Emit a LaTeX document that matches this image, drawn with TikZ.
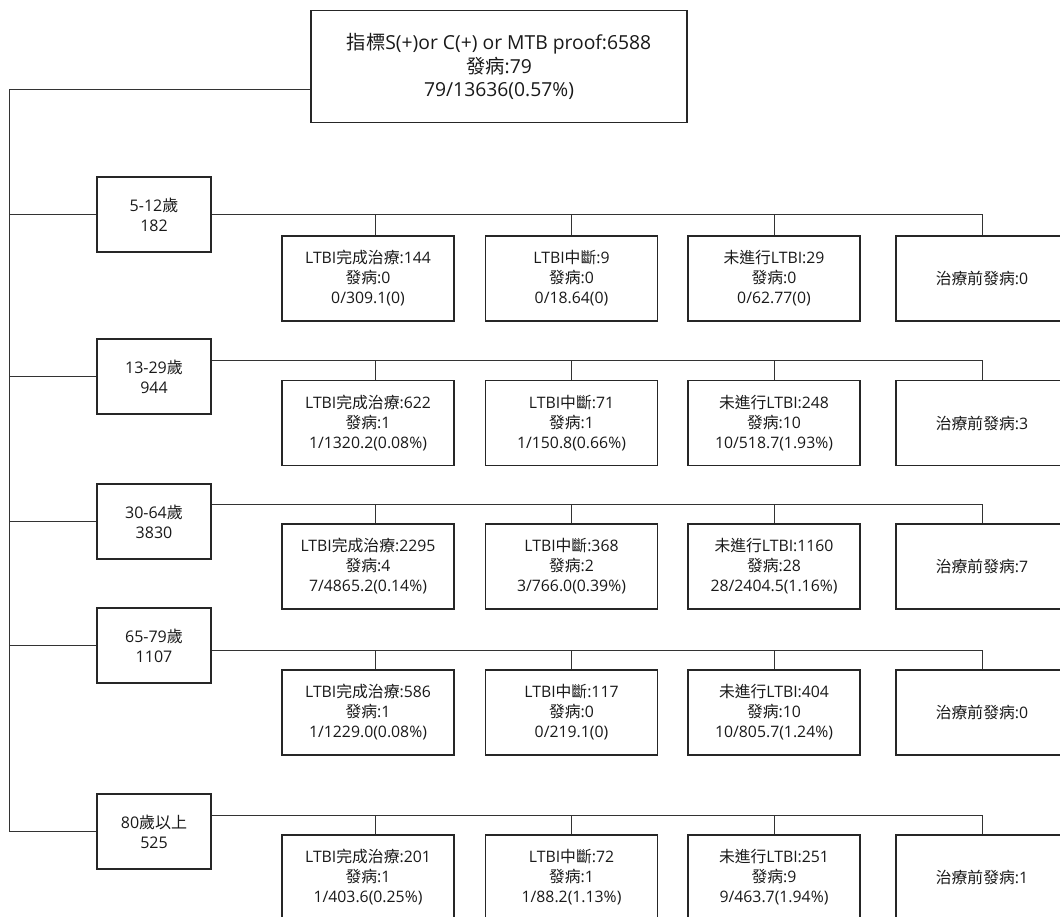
\documentclass[tikz,border=0pt]{standalone}
\usepackage{fontspec}
\setmainfont{Open Sans}
\newfontfamily\zhfont{Noto Sans CJK TC}
\newcommand{\hanzi}[1]{{\zhfont #1}}
\usetikzlibrary{positioning}

\begin{document}
\begin{tikzpicture}[x=1pt,y=-1pt,
	link lines/.style={draw=black!80, line width=1pt},
	root box/.style={draw=black!85, line width=1.1pt, minimum width=376pt, minimum height=112pt, align=center, font=\fontsize{19.3}{23.5}\selectfont, text=black!90},
	age box/.style={draw=black!85, line width=1.1pt, minimum width=114pt, minimum height=75pt, align=center, font=\fontsize{16}{20}\selectfont, text=black!90},
	count box/.style={draw=black!85, line width=1.1pt, minimum width=172pt, minimum height=85pt, align=center, font=\fontsize{15.8}{20}\selectfont, text=black!90}]

	\useasboundingbox (0,0) rectangle (1060,916);
	\clip (0,0) rectangle (1060,916);

	\node[root box] (root) at (499,66.5) {\hanzi{指標}S(+)or C(+) or MTB proof:6588\\\hanzi{發病}:79\\79/13636(0.57\%)};

	\node[age box] (age1) at (154,214.5) {5-12\hanzi{歲}\\182};
	\node[age box] (age2) at (154,376.5) {13-29\hanzi{歲}\\944};
	\node[age box] (age3) at (154,521.5) {30-64\hanzi{歲}\\3830};
	\node[age box] (age4) at (154,645.5) {65-79\hanzi{歲}\\1107};
	\node[age box] (age5) at (154,831.5) {80\hanzi{歲以上}\\525};

	% 5-12
	\node[count box] (c11) at (368,278.5) {LTBI\hanzi{完成治療}:144\\\hanzi{發病}:0\\0/309.1(0)};
	\node[count box] (c12) at (571.5,278.5) {LTBI\hanzi{中斷}:9\\\hanzi{發病}:0\\0/18.64(0)};
	\node[count box] (c13) at (774,278.5) {\hanzi{未進行}LTBI:29\\\hanzi{發病}:0\\0/62.77(0)};
	\node[count box] (c14) at (982,278.5) {\hanzi{治療前發病}:0};

	% 13-29
	\node[count box] (c21) at (368,423) {LTBI\hanzi{完成治療}:622\\\hanzi{發病}:1\\1/1320.2(0.08\%)};
	\node[count box] (c22) at (571.5,423) {LTBI\hanzi{中斷}:71\\\hanzi{發病}:1\\1/150.8(0.66\%)};
	\node[count box] (c23) at (774,423) {\hanzi{未進行}LTBI:248\\\hanzi{發病}:10\\10/518.7(1.93\%)};
	\node[count box] (c24) at (982,423) {\hanzi{治療前發病}:3};

	% 30-64
	\node[count box] (c31) at (368,566.5) {LTBI\hanzi{完成治療}:2295\\\hanzi{發病}:4\\7/4865.2(0.14\%)};
	\node[count box] (c32) at (571.5,566.5) {LTBI\hanzi{中斷}:368\\\hanzi{發病}:2\\3/766.0(0.39\%)};
	\node[count box] (c33) at (774,566.5) {\hanzi{未進行}LTBI:1160\\\hanzi{發病}:28\\28/2404.5(1.16\%)};
	\node[count box] (c34) at (982,566.5) {\hanzi{治療前發病}:7};

	% 65-79
	\node[count box] (c41) at (368,712.5) {LTBI\hanzi{完成治療}:586\\\hanzi{發病}:1\\1/1229.0(0.08\%)};
	\node[count box] (c42) at (571.5,712.5) {LTBI\hanzi{中斷}:117\\\hanzi{發病}:0\\0/219.1(0)};
	\node[count box] (c43) at (774,712.5) {\hanzi{未進行}LTBI:404\\\hanzi{發病}:10\\10/805.7(1.24\%)};
	\node[count box] (c44) at (982,712.5) {\hanzi{治療前發病}:0};

	% 80+
	\node[count box] (c51) at (368,877.5) {LTBI\hanzi{完成治療}:201\\\hanzi{發病}:1\\1/403.6(0.25\%)};
	\node[count box] (c52) at (571.5,877.5) {LTBI\hanzi{中斷}:72\\\hanzi{發病}:1\\1/88.2(1.13\%)};
	\node[count box] (c53) at (774,877.5) {\hanzi{未進行}LTBI:251\\\hanzi{發病}:9\\9/463.7(1.94\%)};
	\node[count box] (c54) at (982,877.5) {\hanzi{治療前發病}:1};

	\coordinate (trunk) at (9,89);
	\draw[link lines] (root.west |- trunk) -- (trunk) |- (age5.west);
		\foreach \i in {1,...,4}
			\draw[link lines] (trunk |- age\i.west) -- (age\i.west);

		\foreach \i/\y in {1/214.5,2/360,3/504,4/650,5/815} {
			\coordinate (bar\i) at (982,\y);
			\draw[link lines] (age\i.east |- bar\i) -- (bar\i) -- (c\i4.north);
			\draw[link lines] (c\i1.north) ++(7,0) |- (bar\i);
			\draw[link lines] (c\i2.north) |- (bar\i);
			\draw[link lines] (c\i3.north) |- (bar\i);
		}

\end{tikzpicture}
\end{document}
